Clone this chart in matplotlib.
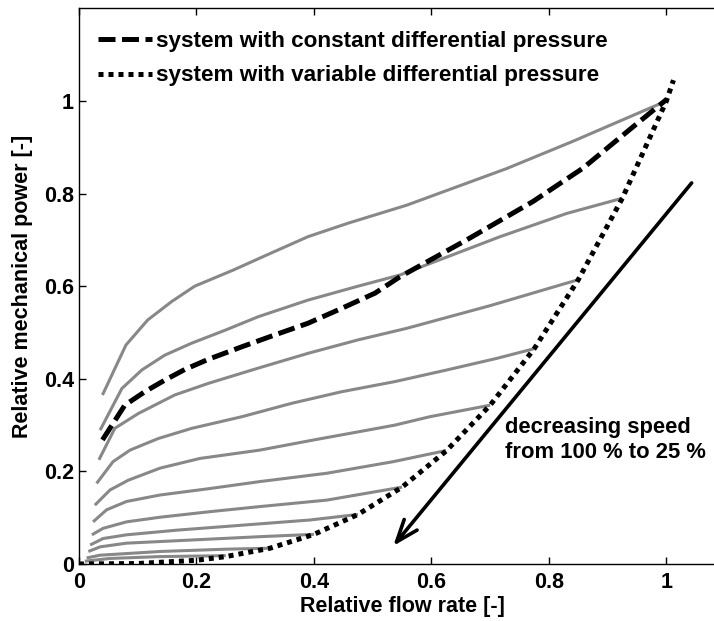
"""Relative mechanical power vs relative flow rate for a speed-controlled pump."""
import matplotlib
matplotlib.use("Agg")
import matplotlib.pyplot as plt

plt.rcParams["font.family"] = ["Liberation Sans", "DejaVu Sans"]
plt.rcParams["font.weight"] = "bold"

# gray curves: one per pump speed, 100 % down to 25 %
speed_curves = [
    ([0.040, 0.080, 0.117, 0.158, 0.197, 0.263, 0.319, 0.390, 0.458, 0.558, 0.728, 0.841, 1.000],
     [0.365, 0.473, 0.527, 0.567, 0.600, 0.635, 0.667, 0.707, 0.736, 0.775, 0.854, 0.913, 1.000]),
    ([0.036, 0.073, 0.107, 0.146, 0.192, 0.249, 0.305, 0.390, 0.475, 0.546, 0.717, 0.830, 0.925],
     [0.289, 0.379, 0.419, 0.451, 0.477, 0.505, 0.534, 0.570, 0.600, 0.624, 0.707, 0.757, 0.790]),
    ([0.034, 0.061, 0.101, 0.163, 0.220, 0.305, 0.390, 0.475, 0.558, 0.700, 0.850],
     [0.225, 0.293, 0.325, 0.365, 0.390, 0.423, 0.455, 0.484, 0.509, 0.558, 0.614]),
    ([0.030, 0.058, 0.087, 0.135, 0.192, 0.277, 0.362, 0.447, 0.538, 0.626, 0.711, 0.775],
     [0.174, 0.221, 0.246, 0.271, 0.293, 0.318, 0.347, 0.372, 0.394, 0.419, 0.444, 0.465]),
    ([0.027, 0.053, 0.084, 0.138, 0.206, 0.308, 0.400, 0.478, 0.538, 0.597, 0.700],
     [0.127, 0.160, 0.181, 0.207, 0.228, 0.246, 0.268, 0.286, 0.300, 0.318, 0.343]),
    ([0.024, 0.047, 0.081, 0.138, 0.223, 0.308, 0.422, 0.535, 0.625],
     [0.091, 0.117, 0.135, 0.149, 0.163, 0.178, 0.196, 0.221, 0.245]),
    ([0.022, 0.041, 0.081, 0.138, 0.223, 0.308, 0.422, 0.550],
     [0.063, 0.077, 0.091, 0.101, 0.113, 0.124, 0.138, 0.166]),
    ([0.019, 0.041, 0.081, 0.166, 0.280, 0.393, 0.475],
     [0.041, 0.055, 0.063, 0.073, 0.084, 0.095, 0.107]),
    ([0.016, 0.036, 0.081, 0.195, 0.308, 0.400],
     [0.027, 0.037, 0.045, 0.052, 0.059, 0.064]),
    ([0.013, 0.036, 0.138, 0.251, 0.325],
     [0.013, 0.019, 0.027, 0.032, 0.034]),
    ([0.010, 0.053, 0.138, 0.250],
     [0.006, 0.012, 0.016, 0.018]),
]

const_dp_x = [0.040, 0.078, 0.112, 0.146, 0.180, 0.220, 0.277, 0.334, 0.390, 0.447,
              0.504, 0.546, 0.660, 0.773, 0.858, 0.944, 1.000]
const_dp_y = [0.268, 0.343, 0.372, 0.397, 0.420, 0.442, 0.469, 0.495, 0.520, 0.552,
              0.585, 0.620, 0.700, 0.783, 0.855, 0.945, 1.003]

var_dp_x = [0.0, 0.10, 0.20, 0.25, 0.325, 0.40, 0.475, 0.55, 0.625, 0.70, 0.775,
            0.85, 0.925, 1.00, 1.012]
var_dp_y = [0.0, 0.001, 0.008, 0.016, 0.034, 0.064, 0.107, 0.166, 0.244, 0.343, 0.465,
            0.614, 0.790, 1.000, 1.045]

x_ticks = [0, 0.2, 0.4, 0.6, 0.8, 1]
y_ticks = [0, 0.2, 0.4, 0.6, 0.8, 1]
tick_labels = ["0", "0.2", "0.4", "0.6", "0.8", "1"]

fig = plt.figure(figsize=(7.14, 6.21), dpi=100)
ax = fig.add_axes([0.1106, 0.0918, 0.905, 0.8947])

for qx, qy in speed_curves:
    ax.plot(qx, qy, color="#888888", linewidth=2.2, solid_capstyle="butt")

(dash_line,) = ax.plot(const_dp_x, const_dp_y, color="black", linewidth=3.6,
                       dashes=(3.4, 1.3), label="system with constant differential pressure")
(dot_line,) = ax.plot(var_dp_x, var_dp_y, color="black", linewidth=3.6,
                      dashes=(1.0, 1.0), label="system with variable differential pressure")

ax.annotate("", xy=(0.535, 0.039), xytext=(1.043, 0.823),
            arrowprops=dict(arrowstyle="->,head_length=0.8,head_width=0.3",
                            lw=2.6, color="black", mutation_scale=20, shrinkA=0, shrinkB=0))
ax.text(0.725, 0.268, "decreasing speed\nfrom 100 % to 25 %", fontsize=15.8,
        fontweight="bold", va="center", ha="left", linespacing=1.2)

ax.set_xlim(0, 1.1)
ax.set_ylim(0, 1.2)
ax.set_xticks(x_ticks)
ax.set_xticklabels(tick_labels)
ax.set_yticks(y_ticks)
ax.set_yticklabels(tick_labels)
ax.tick_params(direction="in", length=5, width=1, labelsize=15.5, top=True, right=True)
ax.tick_params(axis="x", pad=6)
ax.set_xlabel("Relative flow rate [-]", fontsize=15.5, fontweight="bold", labelpad=2)
ax.set_ylabel("Relative mechanical power [-]", fontsize=15.5, fontweight="bold", labelpad=8)
for spine in ax.spines.values():
    spine.set_linewidth(1.0)

ax.legend(handles=[dash_line, dot_line], loc="upper left", bbox_to_anchor=(-0.006, 1.0),
          frameon=False, fontsize=16.2, handlelength=2.4, handletextpad=0.2,
          labelspacing=0.6, borderaxespad=0.6)

fig.savefig("out.png", dpi=100)
